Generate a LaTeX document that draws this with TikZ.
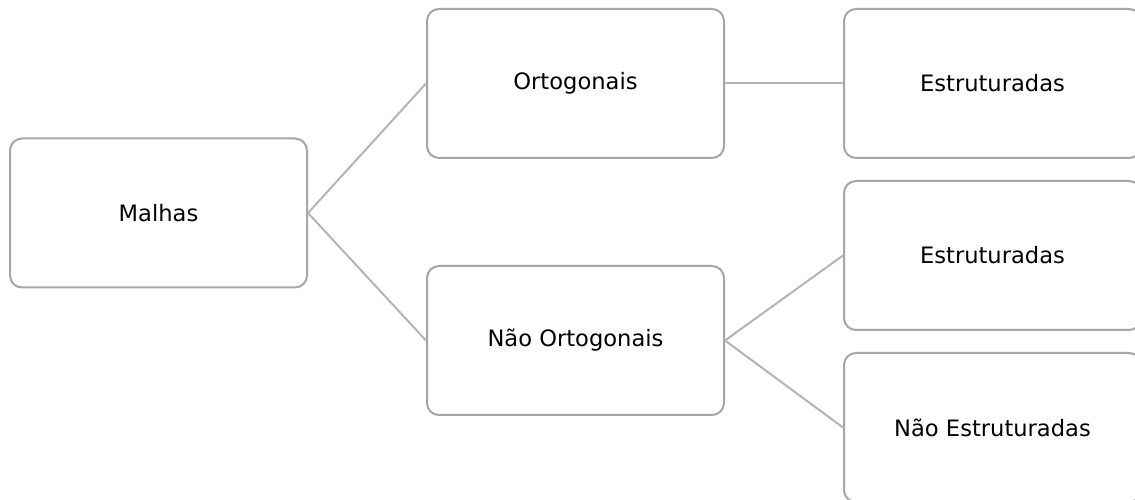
\documentclass[tikz,border=0pt]{standalone}
\usepackage{fontspec}
\setmainfont{DejaVu Sans}
\usepackage{tikz}
\usetikzlibrary{positioning}
\definecolor{boxgray}{HTML}{A6A6A6}
\definecolor{linegray}{HTML}{B4B4B4}
\definecolor{ink}{HTML}{000000}
\tikzset{
    every picture/.style={line cap=round,line join=round},
    meshbox/.style={draw=boxgray,fill=white,line width=2pt,rounded corners=12pt,
      minimum width=297pt,minimum height=149pt,inner sep=0pt,
      text=ink,font=\fontsize{22.6}{27}\selectfont,align=center},
    branch/.style={draw=linegray,line width=2pt}
}
\begin{document}
\begin{tikzpicture}[x=1pt,y=1pt]
  \useasboundingbox (0,0) rectangle (1135,500);
  \clip (0,0) rectangle (1135,500);
  \node[meshbox] (malhas) at (158.5,287) {Malhas};
  \node[meshbox] (orto) at (575.5,416.5) {Ortogonais};
  \node[meshbox] (naoorto) at (575.5,159.5) {Não Ortogonais};
  \node[meshbox] (estrA) at (992.5,416.5) {Estruturadas};
  \node[meshbox] (estrB) at (992.5,244.5) {Estruturadas};
  \node[meshbox] (naoestr) at (992.5,72.5) {Não Estruturadas};
  % ligacoes
  \draw[branch] (malhas.east)--(orto.west);
  \draw[branch] (malhas.east)--(naoorto.west);
  \draw[branch] (orto.east)--(estrA.west);
  \draw[branch] (naoorto.east)--(estrB.west);
  \draw[branch] (naoorto.east)--(naoestr.west);
\end{tikzpicture}
\end{document}
